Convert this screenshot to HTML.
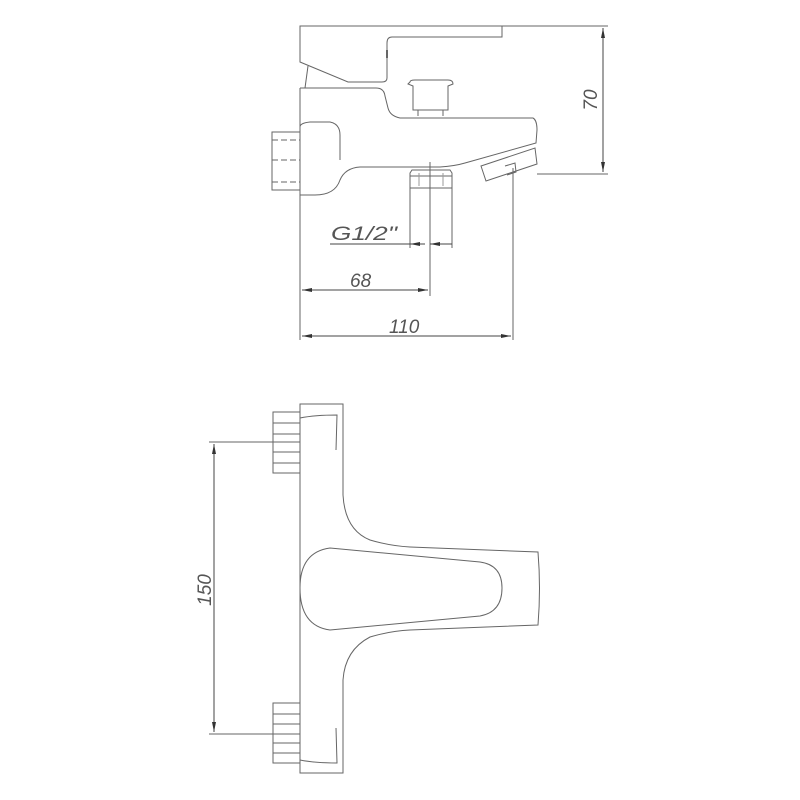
<!DOCTYPE html>
<html><head><meta charset="utf-8"><style>html,body{margin:0;padding:0;background:#fff}svg{display:block}</style></head>
<body>
<svg width="800" height="800" viewBox="0 0 800 800" xmlns="http://www.w3.org/2000/svg">
<defs>
<marker id="a" viewBox="0 0 10 6" refX="10" refY="3" markerWidth="10" markerHeight="6" orient="auto-start-reverse" markerUnits="userSpaceOnUse"><path d="M0,1 L10,3 L0,5 Z" fill="#333"/></marker>
</defs>
<g fill="none" stroke="#666" stroke-width="1">
<path d="M300,26 L502,26 L502,37 L392,37 Q387,37 387,43 L387,78 Q387,82 382,82 L348,82 L300,62 Z"/>
<path d="M308,66 L305,88"/>
<path d="M387,50 L387,58" stroke-width="2"/>
<path d="M300,88 L376,88 Q384,88 385,96 L388,108 Q390,116 400,118 L533,118 Q537,120 537,130 L536,143 L465,163 Q455,166 440,167 L360,167 Q345,168 340,180 Q335,195 315,195 L300,195"/>
<path d="M300,88 L300,195"/>
<path d="M300,127 Q300,123 310,122 L330,122 Q340,124 340,135 L340,160"/>
<rect x="272" y="132" width="28" height="58"/>
<path d="M272,140 L300,140 M272,182 L300,182 M272,160 L300,160" stroke-dasharray="6,3"/>
<path d="M410,82 Q410,80 415,80 L448,80 Q453,80 453,84 L448,86 L448,110 L413,110 L413,86 L408,84 Z"/>
<path d="M418,110 L418,116 M443,110 L443,116"/>
<path d="M412,170 L450,170 L452,173 L452,188 L410,188 L410,173 Z"/>
<path d="M410,176 L452,176"/>
<path d="M481,166 L535,148 L537,164 L486,181 Z"/>
<path d="M505,166 L515,163 L516,172 L507,175"/>
<path d="M300,195 L300,340 M430,162 L430,296 M513,168 L513,340 M410,188 L410,248 M452,188 L452,248 M502,26 L608,26 M537,174 L608,174"/>
<path d="M419,173 L419,186 M443,173 L443,186" stroke="#999"/>
</g>
<g stroke="#444" stroke-width="1" fill="none">
<path d="M603,28 L603,172" marker-start="url(#a)" marker-end="url(#a)"/>
<path d="M330,244 L410,244"/>
<path d="M452,244 L430,244" marker-end="url(#a)"/>
<path d="M410,244 L425,244" marker-start="url(#a)"/>
<path d="M302,290 L428,290" marker-start="url(#a)" marker-end="url(#a)"/>
<path d="M302,336 L511,336" marker-start="url(#a)" marker-end="url(#a)"/>
</g>
<g font-family="Liberation Sans, sans-serif" font-size="19" font-style="italic" fill="#555">
<text x="331" y="240" textLength="66" lengthAdjust="spacingAndGlyphs">G1/2"</text>
<text x="350" y="287">68</text>
<text x="389" y="333">110</text>
<text transform="translate(597,100) rotate(-90)" text-anchor="middle">70</text>
<text transform="translate(211,590) rotate(-90)" text-anchor="middle">150</text>
</g>
<g fill="none" stroke="#666" stroke-width="1">
<path d="M300,404 L343,404 L343,495 Q345,530 370,540 Q390,546 410,547 L538,552 Q541,588 538,625 L410,630 Q390,631 370,637 Q345,650 343,680 L343,773 L300,773 Z"/>
<path d="M300,418 Q315,415 337,415 L336,450"/>
<path d="M300,760 Q315,763 337,763 L336,728"/>
<path d="M300,588 Q300,552 330,548 L480,562 Q502,565 502,588 Q502,612 480,616 L330,630 Q300,626 300,588 Z"/>
<rect x="273" y="412" width="27" height="61"/>
<path d="M273,423 L300,423 M273,434 L300,434 M273,452 L300,452 M273,463 L300,463"/>
<rect x="273" y="703" width="27" height="60"/>
<path d="M273,714 L300,714 M273,724 L300,724 M273,743 L300,743 M273,753 L300,753"/>
<path d="M209,442 L300,442 M209,734 L300,734"/>
</g>
<path d="M214,444 L214,732" stroke="#444" fill="none" marker-start="url(#a)" marker-end="url(#a)"/>
</svg>
</body></html>
